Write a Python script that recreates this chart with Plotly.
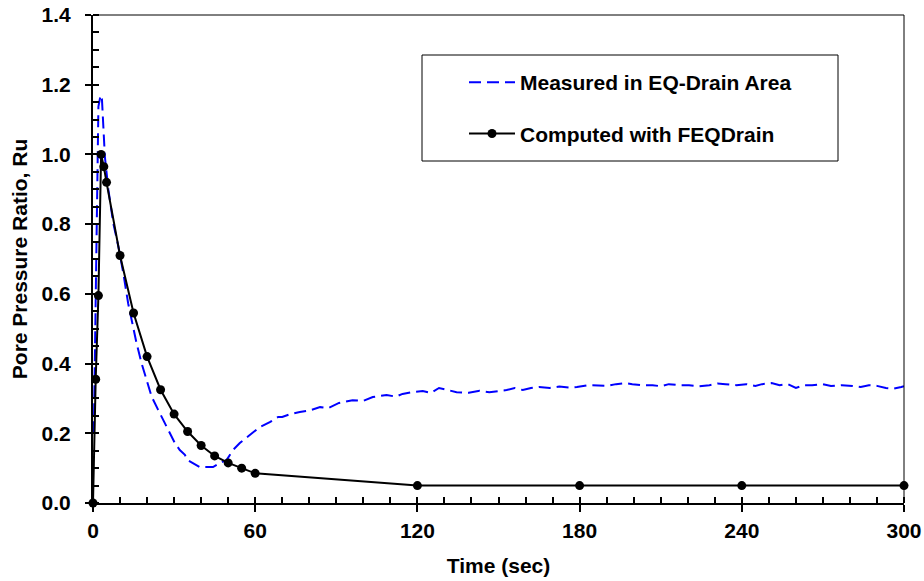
import plotly.graph_objects as go

# Computed with FEQDrain
comp_t = [0, 1, 2, 3, 4, 5, 10, 15, 20, 25, 30, 35, 40, 45, 50, 55, 60, 120, 180, 240, 300]
comp_ru = [0.0, 0.355, 0.595, 1.0, 0.965, 0.92, 0.71, 0.545, 0.42, 0.325, 0.255, 0.205,
           0.165, 0.135, 0.115, 0.1, 0.085, 0.05, 0.05, 0.05, 0.05]

# Measured in EQ-Drain Area
meas_t = [0.3, 0.7, 1.1, 1.4, 2.0, 2.8, 3.3, 4.4, 5.7, 7.5, 9.4, 11.2, 13.0, 14.3, 16.1, 18.0,
          19.8, 21.7, 24.1, 26.6, 28.4, 30.3, 32.1, 34.0, 35.0, 37.0, 39.5, 42.0, 44.4, 46.9,
          49.4, 51.8, 54.3, 58.0, 61.7, 65.4, 68.5, 70, 73, 76.5, 80, 84, 87, 91, 96, 100,
          103.5, 108.6, 112, 114.5, 118, 122, 125, 128, 131, 134.5, 139, 143, 146.6, 150, 153,
          156, 159, 162, 165, 169, 172.5, 176, 179, 183, 186, 190, 193.5, 197, 199.5, 203, 207,
          210, 213, 217, 220.5, 224, 228, 231, 234, 238, 241.6, 245, 247.5, 251, 254, 257, 260,
          263, 266, 270, 273, 277, 281, 284, 287, 290, 293.3, 296, 299, 300]
meas_ru = [0.2, 0.45, 0.65, 0.93, 1.137, 1.17, 1.16, 0.993, 0.898, 0.803, 0.735, 0.66, 0.573,
           0.525, 0.459, 0.40, 0.353, 0.305, 0.267, 0.229, 0.20, 0.172, 0.152, 0.138, 0.123,
           0.115, 0.103, 0.103, 0.103, 0.115, 0.123, 0.152, 0.172, 0.195, 0.218, 0.232, 0.247,
           0.247, 0.255, 0.261, 0.265, 0.275, 0.272, 0.287, 0.295, 0.293, 0.304, 0.31, 0.305,
           0.313, 0.318, 0.321, 0.316, 0.33, 0.325, 0.318, 0.316, 0.322, 0.318, 0.322, 0.324,
           0.33, 0.324, 0.33, 0.333, 0.33, 0.334, 0.331, 0.333, 0.338, 0.338, 0.336, 0.341,
           0.344, 0.341, 0.338, 0.338, 0.335, 0.341, 0.338, 0.338, 0.335, 0.338, 0.343, 0.341,
           0.338, 0.341, 0.336, 0.341, 0.344, 0.338, 0.341, 0.33, 0.338, 0.338, 0.341, 0.336,
           0.338, 0.336, 0.333, 0.338, 0.336, 0.33, 0.328, 0.333, 0.335]

x_ticks = [0, 60, 120, 180, 240, 300]
y_ticks = [0.0, 0.2, 0.4, 0.6, 0.8, 1.0, 1.2, 1.4]

FONT = "Liberation Sans, Arial, sans-serif"
FS = 21

fig = go.Figure()
fig.add_trace(go.Scatter(
    x=meas_t, y=meas_ru, mode="lines", name="<b>Measured in EQ-Drain Area</b>",
    line=dict(color="#0000FF", width=2, dash="12px,6px"), legendgroup="a"))
fig.add_trace(go.Scatter(
    x=comp_t, y=comp_ru, mode="lines+markers", name="<b>Computed with FEQDrain</b>",
    line=dict(color="black", width=2), marker=dict(color="black", size=9, symbol="circle"),
    legendgroup="b", cliponaxis=False))

fig.update_layout(
    width=924, height=581,
    margin=dict(l=93, r=20, t=15, b=78, autoexpand=False),
    plot_bgcolor="white", paper_bgcolor="white",
    font=dict(family=FONT, size=FS, color="black"),
    showlegend=True,
    legend=dict(x=(464 - 93) / 811, y=(503 - 62) / 488, xanchor="left", yanchor="top",
                bgcolor="rgba(0,0,0,0)", borderwidth=0, tracegroupgap=21,
                font=dict(family=FONT, size=FS, color="black"), itemwidth=46),
    shapes=[
        dict(type="rect", xref="paper", yref="paper",
             x0=(422 - 93) / 811, x1=(838 - 93) / 811,
             y0=(503 - 161) / 488, y1=(503 - 55) / 488,
             line=dict(color="black", width=1), fillcolor="white", layer="below"),
        dict(type="line", xref="paper", yref="paper", x0=0, x1=1, y0=1, y1=1,
             line=dict(color="black", width=1)),
        dict(type="line", xref="paper", yref="paper", x0=1, x1=1, y0=0, y1=1,
             line=dict(color="black", width=1)),
    ],
    xaxis=dict(range=[0, 300], tickvals=x_ticks, ticktext=[f"<b>{v}</b>" for v in x_ticks],
               showgrid=False, zeroline=False, showline=True, linecolor="black", linewidth=2,
               ticks="outside", ticklen=7, tickwidth=1.5, tickcolor="black",
               ticklabelstandoff=1, automargin=False,
               minor=dict(dtick=10, ticks="inside", ticklen=6, tickwidth=1.5, tickcolor="black",
                          showgrid=False),
               title=dict(text="<b>Time (sec)</b>", standoff=17,
                          font=dict(family=FONT, size=FS))),
    yaxis=dict(range=[0, 1.4], tickvals=y_ticks, ticktext=[f"<b>{v:.1f}</b>" for v in y_ticks],
               showgrid=False, zeroline=False, showline=True, linecolor="black", linewidth=2,
               ticks="outside", ticklen=6, tickwidth=1.5, tickcolor="black",
               ticklabelstandoff=10, automargin=False,
               minor=dict(dtick=0.05, ticks="inside", ticklen=6, tickwidth=1.5, tickcolor="black",
                          showgrid=False),
               title=dict(text="<b>Pore Pressure Ratio, Ru</b>", standoff=8,
                          font=dict(family=FONT, size=FS))),
)

fig.write_html("out.html", config={"displayModeBar": False},
               post_script="document.body.style.margin='0px';")
